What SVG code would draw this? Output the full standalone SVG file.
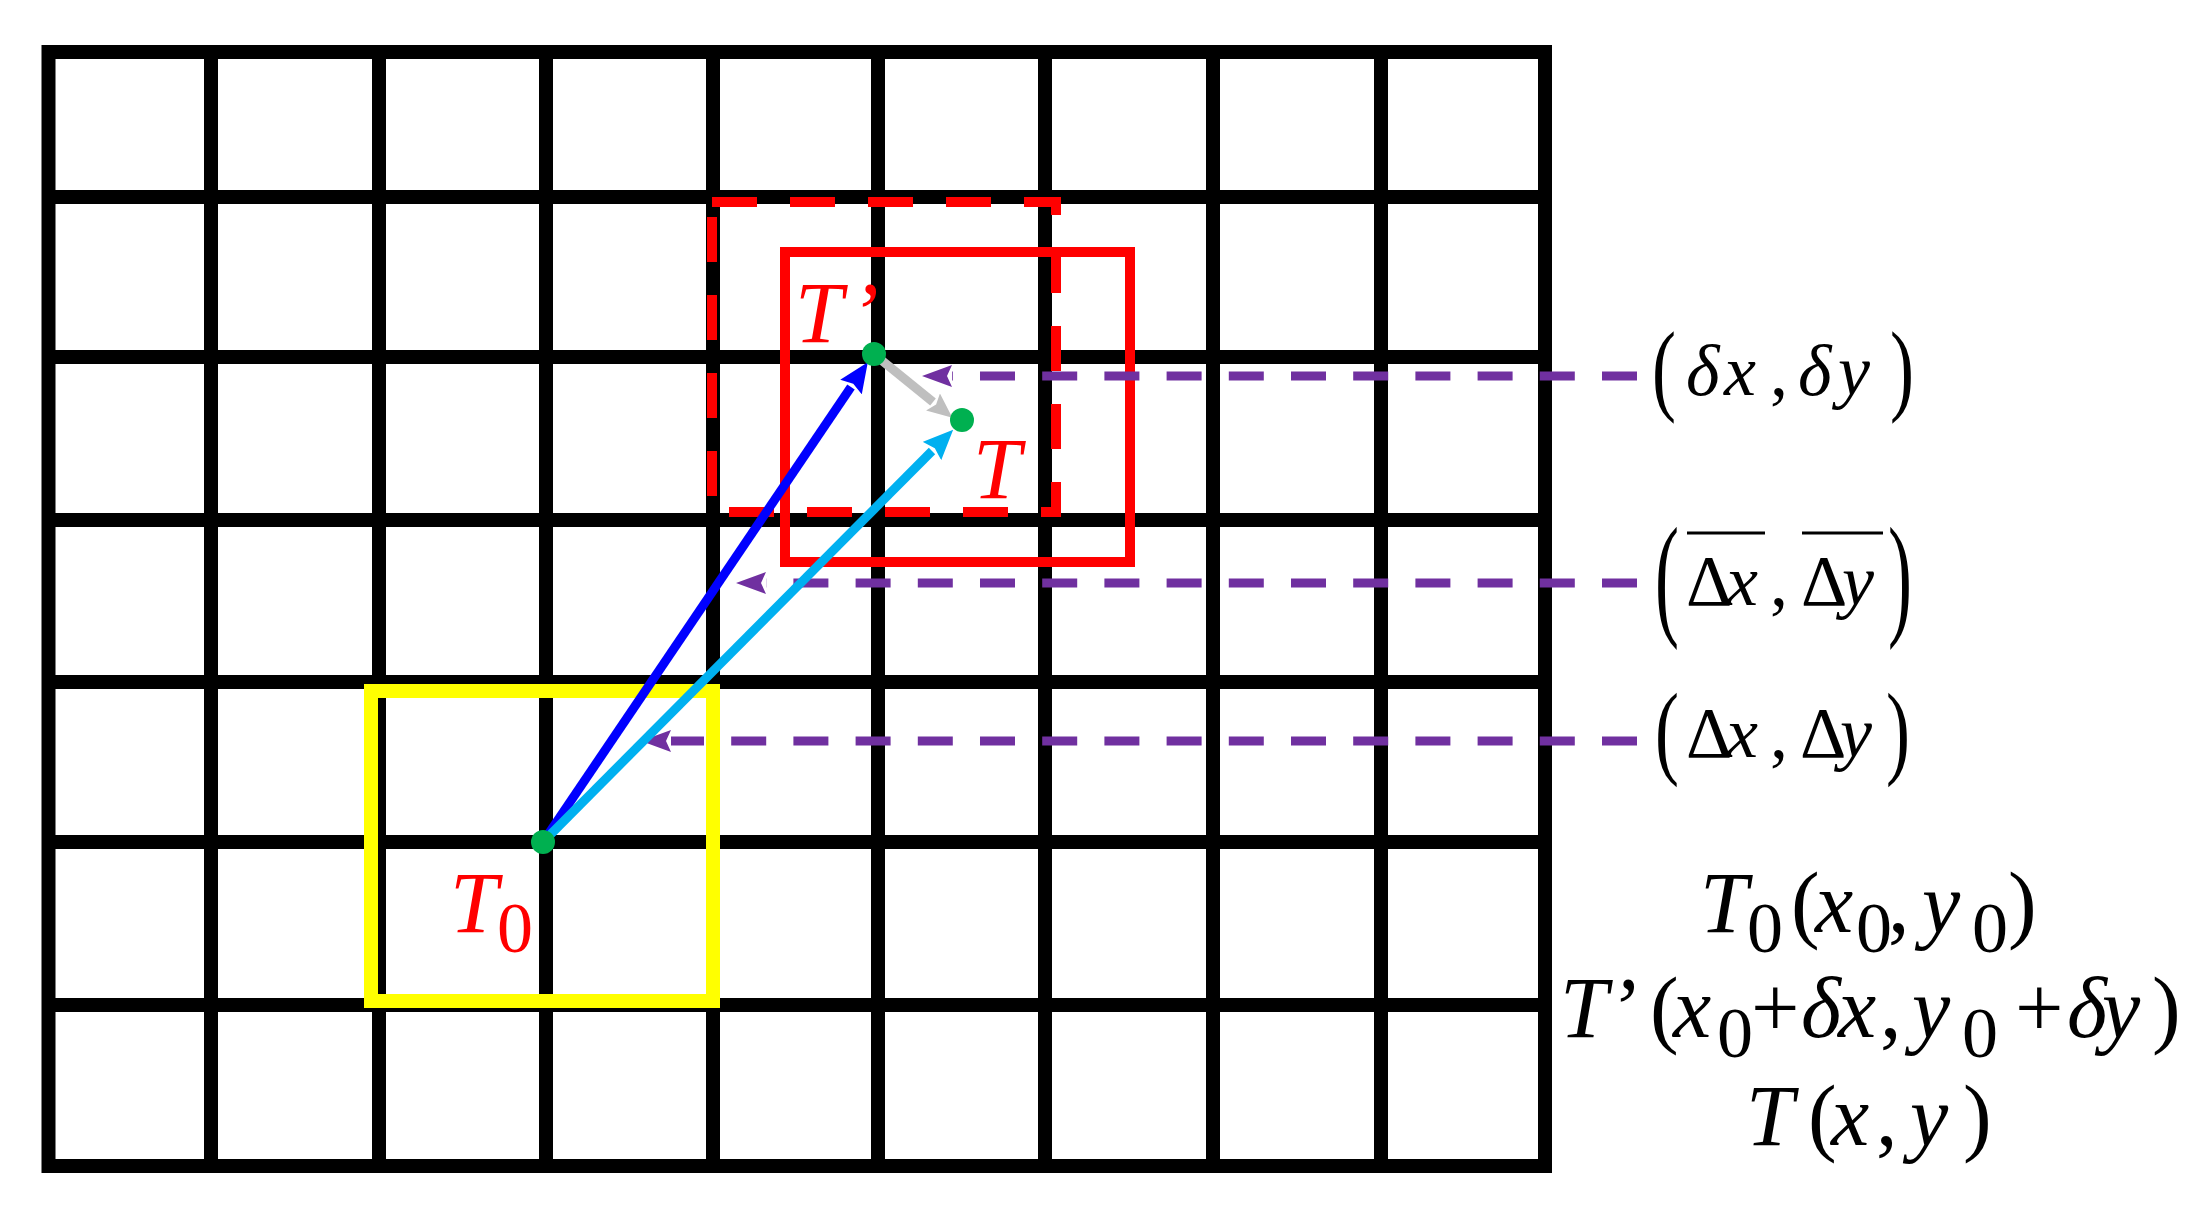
<svg xmlns="http://www.w3.org/2000/svg" width="2207" height="1217" viewBox="0 0 2207 1217">
<style>
.grid{stroke:#000;stroke-width:14;fill:none}
.m{font-family:"Liberation Serif","Times New Roman",serif;font-size:86px;fill:#000}
.it{font-style:italic}
.up{font-style:normal}
.red{fill:#ff0000}
.sub{font-size:72px;font-style:normal}
.lab{font-size:72px}
.pd{stroke:#7030a0;stroke-width:9;stroke-dasharray:35 27.2;fill:none}
.arr{stroke-width:9;fill:none}
.dot{fill:#00b050}
</style>
<defs>
<marker id="hp" markerUnits="userSpaceOnUse" markerWidth="30" markerHeight="22" viewBox="0 0 30 22" refX="0" refY="11" orient="auto"><path d="M0,0 L30,11 L0,22 L5,11 z" fill="#7030a0"/></marker>
<marker id="hb" markerUnits="userSpaceOnUse" markerWidth="30" markerHeight="26" viewBox="0 0 30 26" refX="0" refY="13" orient="auto"><path d="M0,0 L30,13 L0,26 L4,13 z" fill="#0000ff"/></marker>
<marker id="hc" markerUnits="userSpaceOnUse" markerWidth="30" markerHeight="26" viewBox="0 0 30 26" refX="0" refY="13" orient="auto"><path d="M0,0 L30,13 L0,26 L4,13 z" fill="#00b0f0"/></marker>
<marker id="hg" markerUnits="userSpaceOnUse" markerWidth="25" markerHeight="22" viewBox="0 0 25 22" refX="0" refY="11" orient="auto"><path d="M0,0 L25,11 L0,22 L4,11 z" fill="#bfbfbf"/></marker>
</defs>
<rect width="2207" height="1217" fill="#fff"/>
<g id="grid" class="grid">
<rect x="48.5" y="52" width="1496.5" height="1114"/>
<path d="M211,52V1166 M379,52V1166 M546,52V1166 M713,52V1166 M878,52V1166 M1045,52V1166 M1213,52V1166 M1381,52V1166"/>
<path d="M48.5,197H1545 M48.5,357H1545 M48.5,520H1545 M48.5,682H1545 M48.5,842H1545 M48.5,1005H1545"/>
</g>
<g id="box-yellow"><rect x="371" y="691" width="342" height="310" fill="none" stroke="#ffff00" stroke-width="14"/></g>
<g id="box-red-dashed"><rect x="712" y="202" width="344" height="310" fill="none" stroke="#ff0000" stroke-width="10" stroke-dasharray="45 33"/></g>
<g id="box-red"><rect x="785" y="252" width="345" height="310" fill="none" stroke="#ff0000" stroke-width="10"/></g>
<g id="connectors">
<path class="pd" d="M1637,376H952" marker-end="url(#hp)"/>
<path class="pd" d="M1637,583H766" marker-end="url(#hp)"/>
<path class="pd" d="M1637,741H671" marker-end="url(#hp)"/>
<path class="arr" stroke="#0000ff" d="M543,842L851,387" marker-end="url(#hb)"/>
<path class="arr" stroke="#00b0f0" d="M543,842L932,451" marker-end="url(#hc)"/>
<path class="arr" stroke="#bfbfbf" d="M880,359L933,402" marker-end="url(#hg)"/>
</g>
<g id="node-T0"><circle class="dot" cx="543" cy="842" r="12"/>
<text class="m it red"><tspan x="450" y="932">T</tspan><tspan class="sub" x="497" y="952">0</tspan></text></g>
<g id="node-Tprime"><circle class="dot" cx="874" cy="354" r="12"/>
<text class="m it red"><tspan x="795" y="342">T</tspan><tspan x="850" y="342">’</tspan></text></g>
<g id="node-T"><circle class="dot" cx="962" cy="420" r="12"/>
<text class="m it red" x="973" y="498">T</text></g>
<g id="label-dxdy">
<text class="m lab" transform="translate(1652,402) scale(1,1.4)">(</text>
<text class="m it lab" y="395"><tspan x="1686">δ</tspan><tspan x="1724">x</tspan><tspan class="up" x="1770">,</tspan><tspan x="1798">δ</tspan><tspan x="1838">y</tspan></text>
<text class="m lab" transform="translate(1890,402) scale(1,1.4)">)</text>
</g>
<g id="label-mean">
<text class="m lab" transform="translate(1655,621) scale(1,1.88)">(</text>
<text class="m lab" y="605"><tspan x="1686">Δ</tspan><tspan class="it" x="1726">x</tspan><tspan x="1770">,</tspan><tspan x="1801">Δ</tspan><tspan class="it" x="1842">y</tspan></text>
<path d="M1687,533H1765 M1802,533H1883" stroke="#000" stroke-width="3"/>
<text class="m lab" transform="translate(1888,621) scale(1,1.88)">)</text>
</g>
<g id="label-delta">
<text class="m lab" transform="translate(1655,765) scale(1,1.435)">(</text>
<text class="m lab" y="757"><tspan x="1686">Δ</tspan><tspan class="it" x="1726">x</tspan><tspan x="1770">,</tspan><tspan x="1800">Δ</tspan><tspan class="it" x="1840">y</tspan></text>
<text class="m lab" transform="translate(1886,765) scale(1,1.435)">)</text>
</g>
<g id="legend">
<text class="m it"><tspan x="1700" y="932">T</tspan><tspan class="sub" x="1747" y="952">0</tspan><tspan class="up" x="1791" y="932">(</tspan><tspan x="1815" y="932">x</tspan><tspan class="sub" x="1856" y="952">0</tspan><tspan class="up" x="1888" y="932">,</tspan><tspan x="1922" y="932">y</tspan><tspan class="sub" x="1972" y="952">0</tspan><tspan class="up" x="2008" y="932">)</tspan></text>
<text class="m it"><tspan x="1560" y="1037">T</tspan><tspan x="1608" y="1037">’</tspan><tspan class="up" x="1650" y="1037">(</tspan><tspan x="1673" y="1037">x</tspan><tspan class="sub" x="1717" y="1057">0</tspan><tspan class="up" x="1751" y="1037">+</tspan><tspan x="1801" y="1037">δ</tspan><tspan x="1838" y="1037">x</tspan><tspan class="up" x="1880" y="1037">,</tspan><tspan x="1912" y="1037">y</tspan><tspan class="sub" x="1962" y="1057">0</tspan><tspan class="up" x="2015" y="1037">+</tspan><tspan x="2067" y="1037">δ</tspan><tspan x="2102" y="1037">y</tspan><tspan class="up" x="2152" y="1037">)</tspan></text>
<text class="m it"><tspan x="1746" y="1145">T</tspan><tspan class="up" x="1808" y="1145">(</tspan><tspan x="1831" y="1145">x</tspan><tspan class="up" x="1876" y="1145">,</tspan><tspan x="1910" y="1145">y</tspan><tspan class="up" x="1963" y="1145">)</tspan></text>
</g>
</svg>
